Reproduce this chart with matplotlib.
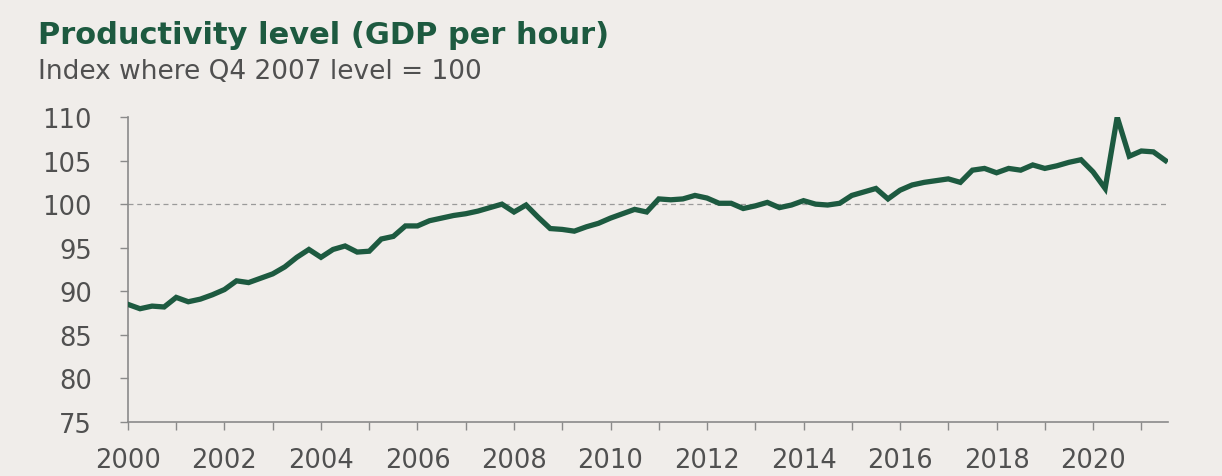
import matplotlib
matplotlib.use("Agg")
import matplotlib.pyplot as plt
import numpy as np

start_year = 2000
productivity = [
    88.5, 88.0, 88.3, 88.2,
    89.3, 88.8, 89.1, 89.6,
    90.2, 91.2, 91.0, 91.5,
    92.0, 92.8, 93.9, 94.8,
    93.9, 94.8, 95.2, 94.5,
    94.6, 96.0, 96.3, 97.5,
    97.5, 98.1, 98.4, 98.7,
    98.9, 99.2, 99.6, 100.0,
    99.1, 99.9, 98.5, 97.2,
    97.1, 96.9, 97.4, 97.8,
    98.4, 98.9, 99.4, 99.1,
    100.6, 100.5, 100.6, 101.0,
    100.7, 100.1, 100.1, 99.5,
    99.8, 100.2, 99.6, 99.9,
    100.4, 100.0, 99.9, 100.1,
    101.0, 101.4, 101.8, 100.6,
    101.6, 102.2, 102.5, 102.7,
    102.9, 102.5, 103.9, 104.1,
    103.6, 104.1, 103.9, 104.5,
    104.1, 104.4, 104.8, 105.1,
    103.7, 101.8, 110.0, 105.5,
    106.1, 106.0, 105.0,
]
x_years = start_year + np.arange(len(productivity)) / 4.0
year_labels = [str(y) for y in range(2000, 2021, 2)]
y_ticks = [75, 80, 85, 90, 95, 100, 105, 110]

title = "Productivity level (GDP per hour)"
subtitle = "Index where Q4 2007 level = 100"

bg = "#f0edea"
green = "#1d5a40"
axis_col = "#8a8a8a"
text_col = "#505050"

fig = plt.figure(figsize=(12.22, 4.77), dpi=100, facecolor=bg)
ax = fig.add_axes([0.1047, 0.1132, 0.851, 0.6394], facecolor=bg)

ax.plot(x_years, productivity, color=green, lw=3.8, solid_joinstyle="miter", zorder=3)
ax.axhline(100, color="#9a9a9a", lw=0.9, ls=(0, (4, 3)), zorder=2)

ax.set_xlim(2000, 2021.55)
ax.set_ylim(75, 110)
ax.set_yticks(y_ticks)
ax.set_xticks(range(2000, 2021, 2))
ax.set_xticklabels(year_labels)
ax.set_xticks(range(2001, 2022, 2), minor=True)

for s in ["top", "right"]:
    ax.spines[s].set_visible(False)
for s in ["left", "bottom"]:
    ax.spines[s].set_color(axis_col)
    ax.spines[s].set_linewidth(1.2)

ax.tick_params(axis="both", which="both", colors=axis_col, length=6, width=1.0,
               labelcolor=text_col, labelsize=18.5)
for lab in ax.get_xticklabels() + ax.get_yticklabels():
    lab.set_family("DejaVu Sans")
ax.tick_params(axis="x", pad=12)
ax.tick_params(axis="y", pad=20)

fig.text(0.031, 0.925, title, fontsize=22, fontweight="bold", color=green,
         va="center", ha="left", family="DejaVu Sans")
fig.text(0.031, 0.849, subtitle, fontsize=19, color=text_col,
         va="center", ha="left", family="DejaVu Sans")

fig.savefig("out.png", dpi=100, facecolor=bg)
